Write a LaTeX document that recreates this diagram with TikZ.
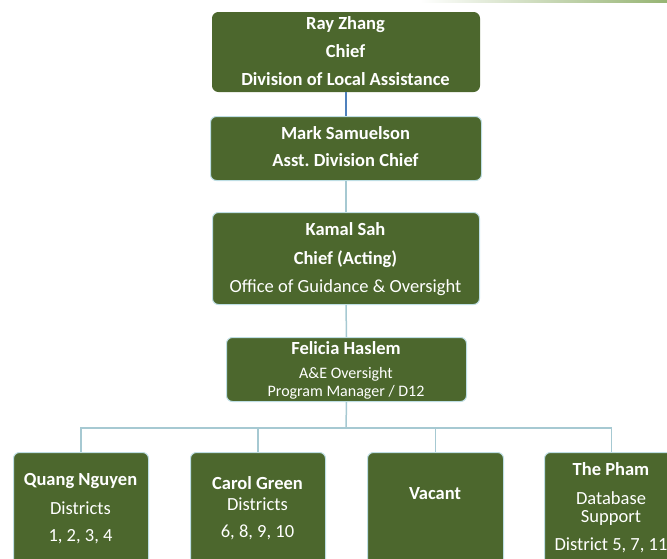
\documentclass[tikz,border=0pt]{standalone}
\usepackage{fontspec}
\setmainfont{Carlito}
\frenchspacing
\definecolor{boxgreen}{RGB}{76,103,45}
\definecolor{boxedge}{RGB}{190,222,228}
\definecolor{connlight}{RGB}{166,201,210}
\definecolor{connblue}{RGB}{79,129,189}
\definecolor{topgreen}{RGB}{150,180,115}
\tikzset{
  orgbox/.style={draw=boxedge, line width=1pt, fill=boxgreen, rounded corners=6pt, inner sep=0pt, anchor=north west},
  bigtxt/.style={text=white, font=\fontsize{18.5}{20}\selectfont\bfseries, anchor=base, inner sep=0pt},
  bigreg/.style={text=white, font=\fontsize{18.5}{20}\selectfont, anchor=base, inner sep=0pt},
  smallreg/.style={text=white, font=\fontsize{16}{18}\selectfont, anchor=base, inner sep=0pt},
  conn/.style={draw=connlight, line width=1.5pt},
  connb/.style={draw=connblue, line width=2pt}
}
\begin{document}
\begin{tikzpicture}[x=1pt,y=-1pt]
\useasboundingbox (0,0) rectangle (667,558);
\clip (0,0) rectangle (667,558);
\shade[left color=white, right color=topgreen] (420,0) rectangle (667,2);
% boxes
\node[orgbox, draw=boxgreen, minimum width=267pt, minimum height=79pt] (ray) at (212,12) {};
\node[orgbox, minimum width=271pt, minimum height=64pt] (mark) at (210,116) {};
\node[orgbox, minimum width=267pt, minimum height=92pt] (kamal) at (212,212) {};
\node[orgbox, minimum width=240pt, minimum height=64pt] (fel) at (226,337) {};
\node[orgbox, minimum width=135pt, minimum height=130pt] (quang) at (13,452) {};
\node[orgbox, minimum width=135pt, minimum height=130pt] (carol) at (190,452) {};
\node[orgbox, minimum width=136pt, minimum height=130pt] (vacant) at (367,452) {};
\node[orgbox, minimum width=134pt, minimum height=130pt] (pham) at (544,452) {};
% connectors
\coordinate (bus) at (346,428);
\draw[connb] (ray.south) -- (mark.north);
\draw[conn] (mark.south) -- (kamal.north);
\draw[conn] (kamal.south) -- (fel.north);
\draw[conn] (fel.south) -- (bus);
\draw[conn] (bus) -| (quang.north);
\draw[conn] (bus) -| (carol.north);
\draw[conn] (bus) -| (vacant.north);
\draw[conn] (bus) -| (pham.north);
% texts
\node[bigtxt] (t1) at (345.5,29) {Ray Zhang};
\node[bigtxt] (t2) at (345.5,57) {Chief};
\node[bigtxt] (t3) at (345.5,85) {Division of Local Assistance};
\node[bigtxt] (t4) at (345.5,139) {Mark Samuelson};
\node[bigtxt] (t5) at (345.5,166) {Asst. Division Chief};
\node[bigtxt] (t6) at (345.5,235) {Kamal Sah};
\node[bigtxt] (t7) at (345.5,264) {Chief (Acting)};
\node[bigreg] (t8) at (345.5,292) {Office of Guidance \& Oversight};
\node[bigtxt] (t9) at (346,354) {Felicia Haslem};
\node[smallreg] (t10) at (346,378) {A\&E Oversight};
\node[smallreg] (t11) at (346,396) {Program Manager / D12};
\node[bigtxt] (t12) at (80.5,485) {Quang Nguyen};
\node[bigreg] (t13) at (80.5,514) {Districts};
\node[bigreg] (t14) at (80.5,541) {1, 2, 3, 4};
\node[bigtxt] (t15) at (257.5,489) {Carol Green};
\node[bigreg] (t16) at (257.5,510) {Districts};
\node[bigreg] (t17) at (257.5,537) {6, 8, 9, 10};
\node[bigtxt] (t18) at (435,499) {Vacant};
\node[bigtxt] (t19) at (611,475) {The Pham};
\node[bigreg] (t20) at (611,504) {Database};
\node[bigreg] (t21) at (611,522) {Support};
\node[bigreg] (t22) at (611,550) {District 5, 7, 11};
\end{tikzpicture}
\end{document}
